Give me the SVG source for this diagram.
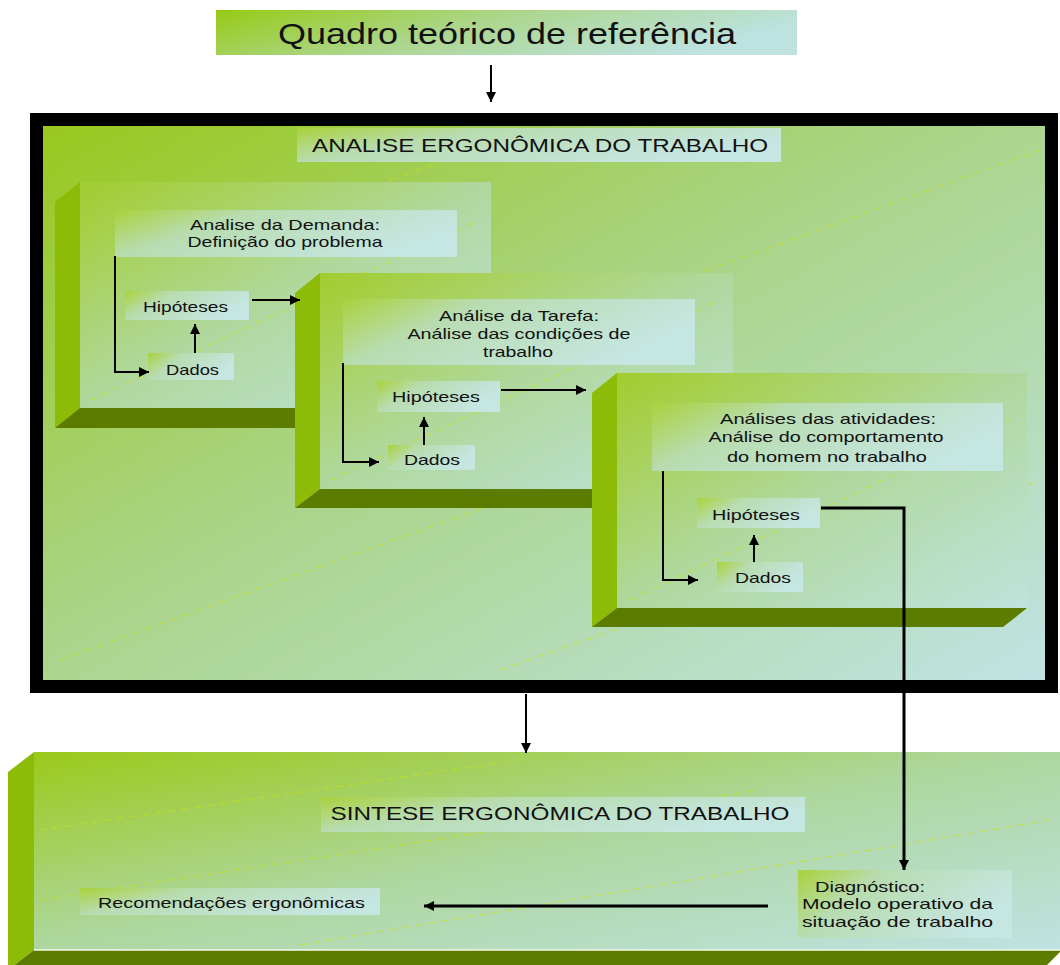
<svg xmlns="http://www.w3.org/2000/svg" width="1060" height="965" viewBox="0 0 1060 965">
<defs>
<linearGradient id="gBig" x1="0" y1="0" x2="1" y2="1">
<stop offset="0" stop-color="#98c81c"/>
<stop offset="0.45" stop-color="#a9d486"/>
<stop offset="1" stop-color="#c0e3e4"/>
</linearGradient>
<linearGradient id="gPanel" x1="0" y1="0" x2="1" y2="1">
<stop offset="0" stop-color="#a2cd2e"/>
<stop offset="0.5" stop-color="#b0d89e"/>
<stop offset="1" stop-color="#c0e2dc"/>
</linearGradient>
<linearGradient id="gSyn" x1="0" y1="0" x2="1" y2="1">
<stop offset="0" stop-color="#9aca1a"/>
<stop offset="0.5" stop-color="#aed7a0"/>
<stop offset="1" stop-color="#bfe2e2"/>
</linearGradient>
<linearGradient id="gBand" x1="0" y1="0" x2="1" y2="0.4">
<stop offset="0" stop-color="#a9d23c"/>
<stop offset="0.35" stop-color="#b8dcb0"/>
<stop offset="1" stop-color="#c6e6e2"/>
</linearGradient>
<linearGradient id="gTop" x1="0" y1="0" x2="1" y2="0.3">
<stop offset="0" stop-color="#96cb14"/>
<stop offset="0.5" stop-color="#acd68e"/>
<stop offset="1" stop-color="#bde2e0"/>
</linearGradient>
<marker id="ah" markerUnits="userSpaceOnUse" markerWidth="11" markerHeight="10" refX="10" refY="5" orient="auto">
<path d="M0,0 L10,5 L0,10 z" fill="#000"/>
</marker>
</defs>
<style>
.t{font-family:"Liberation Sans",Arial,sans-serif;fill:#111;}
.s{font-size:15px;}
.side{fill:#8cbb08;}
.bot{fill:#5c7c00;}
.band{fill:url(#gBand);}
.ln{stroke:#000;stroke-width:2;fill:none;}
.lnk{stroke:#000;stroke-width:3;fill:none;}
.dash{stroke:#c6e020;stroke-width:1.5;stroke-dasharray:7 6;fill:none;opacity:0.55;}
</style>
<rect x="0" y="0" width="1060" height="965" fill="#ffffff"/>

<g id="quadro">
<rect x="216" y="10" width="581" height="45" fill="url(#gTop)"/>
<text class="t" x="507" y="44" font-size="30" text-anchor="middle" textLength="458" lengthAdjust="spacingAndGlyphs">Quadro teórico de referência</text>
</g>

<g id="analise">
<rect x="36.5" y="119.5" width="1015" height="567" fill="url(#gBig)" stroke="#000" stroke-width="13"/>
<g>
<line class="dash" x1="60" y1="300" x2="500" y2="140"/>
<line class="dash" x1="60" y1="660" x2="700" y2="430"/>
<line class="dash" x1="500" y1="670" x2="1040" y2="480"/>
<line class="dash" x1="680" y1="280" x2="1040" y2="150"/>
</g>
<rect x="297" y="128" width="484" height="34" class="band"/>
<text class="t" x="540" y="152" font-size="19" text-anchor="middle" textLength="456" lengthAdjust="spacingAndGlyphs">ANALISE ERGONÔMICA DO TRABALHO</text>
</g>

<g id="panel1">
<polygon class="side" points="55,202 80,182 80,408 55,428"/>
<polygon class="bot" points="80,408 491,408 466,428 55,428"/>
<rect x="80" y="182" width="411" height="226" fill="url(#gPanel)"/>
<line class="dash" x1="90" y1="400" x2="480" y2="220"/>
<rect x="115" y="210" width="342" height="47" class="band"/>
<text class="t s" x="285" y="230" text-anchor="middle" textLength="190" lengthAdjust="spacingAndGlyphs">Analise da Demanda:</text>
<text class="t s" x="285" y="247" text-anchor="middle" textLength="195" lengthAdjust="spacingAndGlyphs">Definição do problema</text>
</g>
<g id="hip1">
<rect x="125" y="291" width="124" height="29" class="band"/>
<text class="t s" x="143" y="312" textLength="85" lengthAdjust="spacingAndGlyphs">Hipóteses</text>
</g>
<g id="dados1">
<rect x="148" y="353" width="86" height="27" class="band"/>
<text class="t s" x="166" y="375" textLength="53" lengthAdjust="spacingAndGlyphs">Dados</text>
</g>

<g id="panel2">
<polygon class="side" points="295,293 320,273 320,489 295,508"/>
<polygon class="bot" points="320,489 733,489 708,508 295,508"/>
<rect x="320" y="273" width="413" height="216" fill="url(#gPanel)"/>
<line class="dash" x1="330" y1="480" x2="720" y2="300"/>
<rect x="343" y="299" width="352" height="66" class="band"/>
<text class="t s" x="519" y="321" text-anchor="middle" textLength="160" lengthAdjust="spacingAndGlyphs">Análise da Tarefa:</text>
<text class="t s" x="519" y="339" text-anchor="middle" textLength="223" lengthAdjust="spacingAndGlyphs">Análise das condições de</text>
<text class="t s" x="518" y="357" text-anchor="middle" textLength="70" lengthAdjust="spacingAndGlyphs">trabalho</text>
</g>
<g id="hip2">
<rect x="377" y="381" width="123" height="31" class="band"/>
<text class="t s" x="392" y="402" textLength="88" lengthAdjust="spacingAndGlyphs">Hipóteses</text>
</g>
<g id="dados2">
<rect x="388" y="445" width="87" height="25" class="band"/>
<text class="t s" x="404" y="465" textLength="56" lengthAdjust="spacingAndGlyphs">Dados</text>
</g>

<g id="panel3">
<polygon class="side" points="592,393 617,373 617,608 592,627"/>
<polygon class="bot" points="617,608 1027,608 1003,627 592,627"/>
<rect x="617" y="373" width="410" height="235" fill="url(#gPanel)"/>
<line class="dash" x1="630" y1="600" x2="1010" y2="420"/>
<rect x="652" y="403" width="351" height="68" class="band"/>
<text class="t s" x="828" y="424" text-anchor="middle" textLength="216" lengthAdjust="spacingAndGlyphs">Análises das atividades:</text>
<text class="t s" x="826" y="442" text-anchor="middle" textLength="235" lengthAdjust="spacingAndGlyphs">Análise do comportamento</text>
<text class="t s" x="827" y="462" text-anchor="middle" textLength="200" lengthAdjust="spacingAndGlyphs">do homem no trabalho</text>
</g>
<g id="hip3">
<rect x="697" y="498" width="123" height="30" class="band"/>
<text class="t s" x="712" y="520" textLength="88" lengthAdjust="spacingAndGlyphs">Hipóteses</text>
</g>
<g id="dados3">
<rect x="717" y="562" width="86" height="30" class="band"/>
<text class="t s" x="735" y="583" textLength="56" lengthAdjust="spacingAndGlyphs">Dados</text>
</g>

<g id="sintese">
<polygon class="side" points="8,772 34,752 34,950 8,970"/>
<polygon class="bot" points="34,950 1062,950 1042,970 8,970"/>
<rect x="34" y="752" width="1030" height="198" fill="url(#gSyn)"/>
<line x1="34" y1="950" x2="1062" y2="950" stroke="#f4f8ee" stroke-width="1.5"/>
<line class="dash" x1="40" y1="830" x2="520" y2="760"/>
<line class="dash" x1="40" y1="900" x2="760" y2="790"/>
<line class="dash" x1="300" y1="945" x2="1050" y2="820"/>
<rect x="321" y="797" width="484" height="35" class="band"/>
<text class="t" x="560" y="820" font-size="18" text-anchor="middle" textLength="459" lengthAdjust="spacingAndGlyphs">SINTESE ERGONÔMICA DO TRABALHO</text>
</g>
<g id="recomendacoes">
<rect x="80" y="888" width="300" height="27" class="band"/>
<text class="t s" x="98" y="908" textLength="267" lengthAdjust="spacingAndGlyphs">Recomendações ergonômicas</text>
</g>
<g id="diagnostico">
<rect x="798" y="870" width="214" height="68" class="band"/>
<text class="t s" x="815" y="892" textLength="110" lengthAdjust="spacingAndGlyphs">Diagnóstico:</text>
<text class="t s" x="802" y="909" textLength="191" lengthAdjust="spacingAndGlyphs">Modelo operativo da</text>
<text class="t s" x="802" y="927" textLength="191" lengthAdjust="spacingAndGlyphs">situação de trabalho</text>
</g>

<g id="connectors">
<line class="ln" x1="491" y1="65" x2="491" y2="102" marker-end="url(#ah)"/>
<path class="ln" d="M115,256 V372 H149" marker-end="url(#ah)"/>
<line class="ln" x1="195" y1="353" x2="195" y2="324" marker-end="url(#ah)"/>
<line class="ln" x1="252" y1="300" x2="300" y2="300" marker-end="url(#ah)"/>
<path class="ln" d="M343,363 V462 H379" marker-end="url(#ah)"/>
<line class="ln" x1="424" y1="445" x2="424" y2="417" marker-end="url(#ah)"/>
<line class="ln" x1="501" y1="390" x2="586" y2="390" marker-end="url(#ah)"/>
<path class="ln" d="M663,471 V580 H698" marker-end="url(#ah)"/>
<line class="ln" x1="754" y1="562" x2="754" y2="535" marker-end="url(#ah)"/>
<path class="lnk" d="M821,508 H904 V870" marker-end="url(#ah)"/>
<line class="ln" x1="526" y1="694" x2="526" y2="753" marker-end="url(#ah)"/>
<line class="lnk" x1="768" y1="906" x2="424" y2="906" marker-end="url(#ah)"/>
</g>
</svg>
